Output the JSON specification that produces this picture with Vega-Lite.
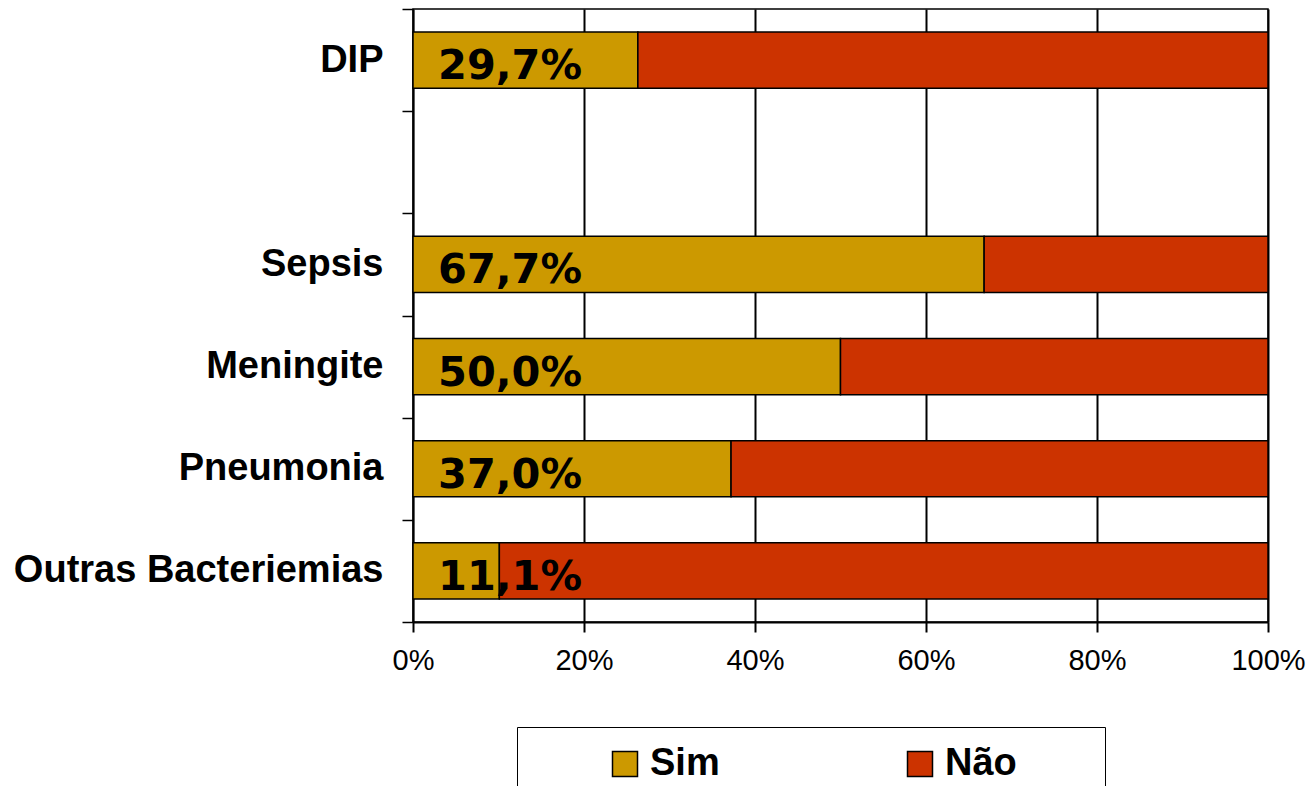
{
  "$schema": "https://vega.github.io/schema/vega-lite/v6.json",
  "width": 855,
  "height": 613,
  "autosize": {"type": "none"},
  "padding": {"left": 413, "top": 9, "right": 45, "bottom": 164},
  "background": "white",
  "config": {
    "view": {"stroke": "black", "strokeWidth": 1.5},
    "font": "Liberation Sans"
  },
  "data": {
    "values": [
      {"categoria": "DIP", "resposta": "Sim", "valor": 26.3, "rotulo": "29,7%"},
      {"categoria": "DIP", "resposta": "Não", "valor": 73.7, "rotulo": ""},
      {"categoria": "Sepsis", "resposta": "Sim", "valor": 66.8, "rotulo": "67,7%"},
      {"categoria": "Sepsis", "resposta": "Não", "valor": 33.2, "rotulo": ""},
      {"categoria": "Meningite", "resposta": "Sim", "valor": 50.0, "rotulo": "50,0%"},
      {"categoria": "Meningite", "resposta": "Não", "valor": 50.0, "rotulo": ""},
      {"categoria": "Pneumonia", "resposta": "Sim", "valor": 37.2, "rotulo": "37,0%"},
      {"categoria": "Pneumonia", "resposta": "Não", "valor": 62.8, "rotulo": ""},
      {"categoria": "Outras Bacteriemias", "resposta": "Sim", "valor": 10.1, "rotulo": "11,1%"},
      {"categoria": "Outras Bacteriemias", "resposta": "Não", "valor": 89.9, "rotulo": ""}
    ]
  },
  "encoding": {
    "y": {
      "field": "categoria",
      "type": "nominal",
      "scale": {
        "domain": ["DIP", " ", "Sepsis", "Meningite", "Pneumonia", "Outras Bacteriemias"],
        "paddingInner": 0,
        "paddingOuter": 0
      },
      "axis": {
        "title": null,
        "tickBand": "extent",
        "tickSize": 11,
        "tickColor": "black",
        "tickWidth": 1.5,
        "domainColor": "black",
        "domainWidth": 1.5,
        "labelFont": "Liberation Sans",
        "labelFontWeight": "bold",
        "labelFontSize": 38,
        "labelColor": "black",
        "labelPadding": 19,
        "labelLimit": 500
      }
    }
  },
  "layer": [
    {
      "mark": {"type": "bar", "height": {"band": 0.55}, "stroke": "black", "strokeWidth": 1.5},
      "encoding": {
        "x": {
          "field": "valor",
          "type": "quantitative",
          "stack": "normalize",
          "scale": {"domain": [0, 1]},
          "axis": {
            "title": null,
            "values": [0, 0.2, 0.4, 0.6, 0.8, 1],
            "format": ".0%",
            "grid": true,
            "gridColor": "black",
            "gridWidth": 2,
            "gridOpacity": 1,
            "tickSize": 10,
            "tickColor": "black",
            "tickWidth": 2,
            "domainColor": "black",
            "domainWidth": 2,
            "labelFont": "Liberation Sans",
            "labelFontSize": 29,
            "labelColor": "black",
            "labelPadding": 14,
            "labelFlush": false
          }
        },
        "color": {
          "field": "resposta",
          "type": "nominal",
          "scale": {"domain": ["Sim", "Não"], "range": ["#CC9900", "#CC3300"]},
          "legend": {
            "orient": "none",
            "legendX": 104,
            "legendY": 718,
            "direction": "horizontal",
            "title": " ",
            "titleOrient": "right",
            "titlePadding": 70,
            "fillColor": "white",
            "strokeColor": "black",
            "padding": 18,
            "symbolType": "square",
            "symbolSize": 625,
            "symbolOffset": 71,
            "symbolStrokeColor": "black",
            "symbolStrokeWidth": 1.5,
            "symbolOpacity": 1,
            "labelFont": "Liberation Sans",
            "labelFontWeight": "bold",
            "labelFontSize": 38,
            "labelColor": "black",
            "labelOffset": 6,
            "columnPadding": 110
          }
        },
        "order": {"field": "resposta", "sort": "descending"}
      }
    },
    {
      "transform": [{"filter": "datum.resposta === 'Sim'"}],
      "mark": {
        "type": "text",
        "font": "DejaVu Sans",
        "fontWeight": "bold",
        "fontSize": 41.5,
        "color": "black",
        "align": "left",
        "baseline": "alphabetic",
        "dx": 25,
        "dy": 19
      },
      "encoding": {
        "x": {"datum": 0, "type": "quantitative"},
        "text": {"field": "rotulo"}
      }
    }
  ]
}
